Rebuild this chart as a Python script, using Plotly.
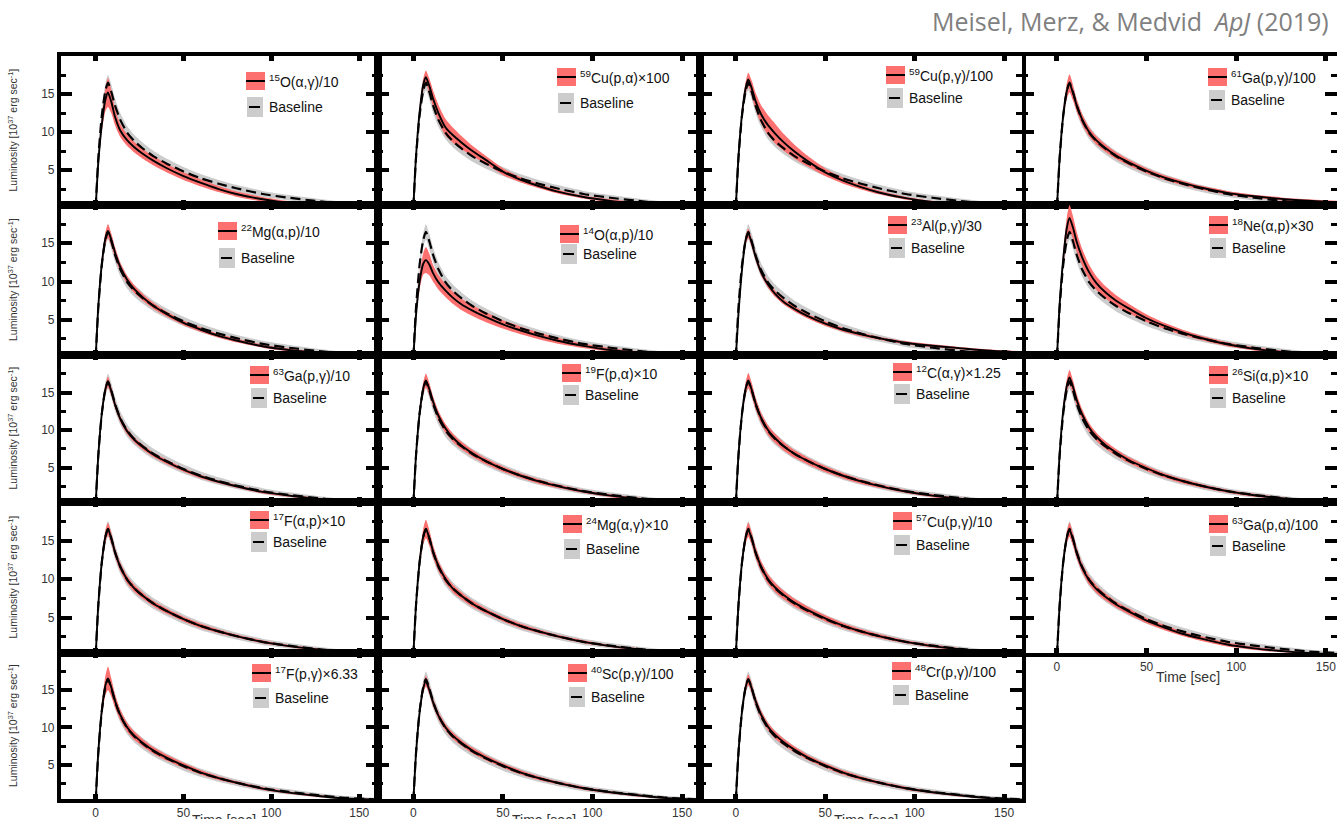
import plotly.graph_objects as go

# ---------------------------------------------------------------
# X-ray burst light curves: baseline vs. varied reaction rates
# ---------------------------------------------------------------

# common time grid [s]
time_s = [0, 1.5, 3.5, 5.5, 7, 9, 11, 14, 18, 22, 27, 33, 40, 50, 60, 70, 80, 95, 110, 125, 140, 160]

# baseline light curve and its spread [1e37 erg/s]
lum_baseline = [0, 6.6, 12.2, 15.4, 16.5, 15.2, 13.5, 11.6, 9.9, 8.8, 7.8, 6.8, 5.9, 4.8, 3.9, 3.2, 2.6, 1.85, 1.35, 0.95, 0.6, 0.35]
err_baseline = [0, 0.4, 0.7, 0.9, 1.0, 1.0, 0.95, 0.9, 0.85, 0.8, 0.75, 0.7, 0.65, 0.6, 0.55, 0.5, 0.45, 0.4, 0.35, 0.3, 0.25, 0.2]

# light curves with one rate varied, and their spreads
lum_15O_ag = [0, 6.0, 11.0, 14.2, 15.2, 13.9, 12.0, 10.2, 8.9, 8.0, 7.1, 6.2, 5.3, 4.2, 3.3, 2.5, 1.85, 1.15, 0.65, 0.35, 0.2, 0.1]
err_15O_ag = [0, 0.5, 1.0, 1.5, 1.9, 1.5, 1.1, 0.85, 0.75, 0.7, 0.65, 0.6, 0.55, 0.5, 0.45, 0.4, 0.35, 0.3, 0.25, 0.2, 0.15, 0.1]

lum_59Cu_pa = [0, 6.8, 12.6, 16.2, 17.2, 16.0, 14.4, 12.5, 10.6, 9.6, 8.6, 7.5, 6.4, 4.8, 3.7, 2.9, 2.2, 1.45, 0.95, 0.6, 0.35, 0.2]
err_59Cu_pa = [0, 0.4, 0.6, 0.8, 0.9, 1.0, 1.1, 1.1, 1.1, 1.0, 0.85, 0.7, 0.55, 0.45, 0.35, 0.3, 0.25, 0.2, 0.2, 0.15, 0.1, 0.1]

lum_59Cu_pg = [0, 6.7, 12.4, 15.8, 16.9, 15.7, 14.1, 12.4, 10.9, 9.8, 8.6, 7.4, 6.2, 4.7, 3.6, 2.75, 2.05, 1.3, 0.8, 0.5, 0.3, 0.15]
err_59Cu_pg = [0, 0.4, 0.6, 0.8, 0.9, 1.0, 1.1, 1.2, 1.3, 1.3, 1.1, 0.9, 0.7, 0.5, 0.4, 0.3, 0.25, 0.2, 0.15, 0.15, 0.1, 0.1]

lum_61Ga_pg = [0, 6.6, 12.2, 15.4, 16.4, 15.1, 13.5, 11.7, 10.0, 8.9, 7.9, 6.9, 6.0, 4.9, 4.0, 3.3, 2.7, 2.0, 1.55, 1.2, 0.95, 0.7]
err_61Ga_pg = [0, 0.4, 0.7, 1.0, 1.2, 1.0, 0.8, 0.7, 0.6, 0.55, 0.5, 0.45, 0.4, 0.35, 0.3, 0.3, 0.25, 0.25, 0.2, 0.2, 0.2, 0.2]

lum_22Mg_ap = [0, 6.7, 12.3, 15.6, 16.6, 15.4, 13.8, 11.9, 10.2, 9.0, 7.9, 6.8, 5.8, 4.6, 3.7, 2.9, 2.3, 1.55, 1.05, 0.7, 0.45, 0.25]
err_22Mg_ap = [0, 0.4, 0.6, 0.8, 0.9, 0.8, 0.7, 0.6, 0.55, 0.5, 0.45, 0.4, 0.35, 0.3, 0.3, 0.25, 0.25, 0.2, 0.2, 0.15, 0.15, 0.1]

lum_14O_ap = [0, 5.6, 10.0, 12.3, 12.8, 12.2, 11.1, 9.9, 8.8, 7.9, 7.0, 6.2, 5.4, 4.4, 3.6, 2.9, 2.3, 1.6, 1.05, 0.7, 0.45, 0.25]
err_14O_ap = [0, 0.5, 1.0, 1.4, 1.7, 1.4, 1.1, 0.95, 0.85, 0.8, 0.75, 0.7, 0.65, 0.55, 0.5, 0.45, 0.4, 0.3, 0.25, 0.2, 0.15, 0.1]

lum_23Al_pg = [0, 5.8, 11.6, 15.4, 16.3, 15.0, 13.3, 11.3, 9.6, 8.4, 7.3, 6.4, 5.5, 4.5, 3.7, 3.1, 2.6, 2.0, 1.6, 1.3, 1.0, 0.75]
err_23Al_pg = [0, 0.3, 0.5, 0.6, 0.6, 0.55, 0.5, 0.45, 0.4, 0.4, 0.35, 0.35, 0.3, 0.3, 0.25, 0.25, 0.2, 0.2, 0.2, 0.15, 0.15, 0.15]

lum_18Ne_ap = [0, 7.0, 13.0, 17.0, 18.3, 17.0, 15.2, 13.2, 11.2, 9.8, 8.6, 7.5, 6.5, 5.2, 4.2, 3.35, 2.65, 1.8, 1.2, 0.8, 0.5, 0.3]
err_18Ne_ap = [0, 0.5, 1.0, 1.4, 1.7, 1.5, 1.3, 1.1, 1.0, 0.9, 0.8, 0.7, 0.6, 0.5, 0.4, 0.35, 0.3, 0.25, 0.2, 0.2, 0.15, 0.1]

lum_63Ga_pg = [0, 6.6, 12.2, 15.4, 16.4, 15.1, 13.4, 11.5, 9.8, 8.7, 7.7, 6.7, 5.8, 4.7, 3.8, 3.1, 2.5, 1.75, 1.25, 0.85, 0.55, 0.3]
err_63Ga_pg = [0, 0.3, 0.5, 0.6, 0.7, 0.6, 0.5, 0.45, 0.4, 0.35, 0.35, 0.3, 0.3, 0.25, 0.25, 0.2, 0.2, 0.2, 0.15, 0.15, 0.1, 0.1]

lum_19F_pa = [0, 6.6, 12.2, 15.5, 16.6, 15.4, 13.8, 11.9, 10.2, 9.0, 7.9, 6.9, 5.9, 4.8, 3.9, 3.15, 2.55, 1.8, 1.25, 0.85, 0.55, 0.3]
err_19F_pa = [0, 0.4, 0.6, 0.8, 0.9, 0.8, 0.7, 0.65, 0.6, 0.55, 0.5, 0.45, 0.4, 0.35, 0.3, 0.3, 0.25, 0.2, 0.2, 0.15, 0.1, 0.1]

lum_12C_ag = [0, 6.6, 12.2, 15.5, 16.6, 15.3, 13.6, 11.7, 10.0, 8.9, 7.8, 6.8, 5.9, 4.8, 3.9, 3.15, 2.55, 1.8, 1.25, 0.85, 0.55, 0.3]
err_12C_ag = [0, 0.4, 0.6, 0.8, 1.0, 0.9, 0.8, 0.7, 0.65, 0.6, 0.55, 0.5, 0.45, 0.4, 0.35, 0.3, 0.25, 0.2, 0.2, 0.15, 0.1, 0.1]

lum_26Si_ap = [0, 6.8, 12.6, 15.9, 17.0, 15.7, 14.0, 12.1, 10.3, 9.1, 8.0, 7.0, 6.0, 4.9, 3.95, 3.2, 2.6, 1.85, 1.3, 0.9, 0.55, 0.3]
err_26Si_ap = [0, 0.4, 0.7, 0.9, 1.0, 0.9, 0.8, 0.7, 0.6, 0.55, 0.5, 0.45, 0.4, 0.35, 0.3, 0.3, 0.25, 0.2, 0.2, 0.15, 0.1, 0.1]

lum_17F_ap = [0, 6.6, 12.2, 15.5, 16.5, 15.2, 13.5, 11.6, 9.9, 8.8, 7.8, 6.8, 5.9, 4.8, 3.9, 3.2, 2.6, 1.85, 1.3, 0.9, 0.55, 0.3]
err_17F_ap = [0, 0.4, 0.6, 0.8, 0.8, 0.7, 0.6, 0.55, 0.5, 0.45, 0.4, 0.35, 0.35, 0.3, 0.3, 0.25, 0.2, 0.2, 0.15, 0.15, 0.1, 0.1]

lum_24Mg_ag = [0, 6.6, 12.2, 15.5, 16.5, 15.3, 13.6, 11.7, 10.0, 8.8, 7.8, 6.8, 5.9, 4.8, 3.9, 3.2, 2.6, 1.85, 1.3, 0.9, 0.55, 0.3]
err_24Mg_ag = [0, 0.4, 0.7, 1.0, 1.2, 1.0, 0.8, 0.65, 0.55, 0.5, 0.45, 0.4, 0.35, 0.3, 0.3, 0.25, 0.2, 0.2, 0.15, 0.15, 0.1, 0.1]

lum_57Cu_pg = [0, 6.6, 12.2, 15.4, 16.4, 15.2, 13.5, 11.7, 10.0, 8.9, 7.9, 6.9, 6.0, 4.9, 3.95, 3.2, 2.6, 1.85, 1.3, 0.9, 0.55, 0.3]
err_57Cu_pg = [0, 0.4, 0.6, 0.8, 0.9, 0.8, 0.75, 0.7, 0.65, 0.6, 0.55, 0.5, 0.45, 0.4, 0.35, 0.3, 0.25, 0.2, 0.2, 0.15, 0.1, 0.1]

lum_63Ga_pa = [0, 6.6, 12.2, 15.4, 16.4, 15.1, 13.4, 11.5, 9.8, 8.7, 7.7, 6.7, 5.8, 4.6, 3.7, 2.9, 2.3, 1.5, 1.0, 0.65, 0.4, 0.2]
err_63Ga_pa = [0, 0.4, 0.6, 0.8, 0.9, 0.8, 0.7, 0.6, 0.55, 0.5, 0.45, 0.4, 0.4, 0.35, 0.35, 0.3, 0.3, 0.25, 0.2, 0.15, 0.1, 0.1]

lum_17F_pg = [0, 6.7, 12.3, 15.6, 16.6, 15.3, 13.6, 11.7, 10.0, 8.9, 7.9, 6.9, 6.0, 4.9, 3.95, 3.2, 2.6, 1.8, 1.25, 0.85, 0.5, 0.3]
err_17F_pg = [0, 0.5, 0.9, 1.3, 1.6, 1.2, 0.9, 0.7, 0.6, 0.55, 0.5, 0.45, 0.4, 0.35, 0.3, 0.25, 0.2, 0.2, 0.15, 0.15, 0.1, 0.1]

lum_40Sc_pg = [0, 6.5, 12.0, 15.2, 16.2, 15.0, 13.4, 11.6, 10.0, 8.9, 7.9, 6.9, 6.0, 4.9, 3.95, 3.2, 2.6, 1.85, 1.3, 0.9, 0.55, 0.3]
err_40Sc_pg = [0, 0.3, 0.5, 0.6, 0.7, 0.6, 0.55, 0.5, 0.45, 0.45, 0.4, 0.4, 0.35, 0.3, 0.3, 0.25, 0.2, 0.2, 0.15, 0.15, 0.1, 0.1]

lum_48Cr_pg = [0, 6.6, 12.2, 15.4, 16.4, 15.2, 13.6, 11.8, 10.1, 9.0, 8.0, 7.0, 6.0, 4.9, 3.95, 3.2, 2.6, 1.85, 1.3, 0.9, 0.55, 0.3]
err_48Cr_pg = [0, 0.3, 0.5, 0.6, 0.7, 0.65, 0.6, 0.55, 0.5, 0.5, 0.45, 0.4, 0.35, 0.3, 0.3, 0.25, 0.2, 0.2, 0.15, 0.15, 0.1, 0.1]

reaction_labels = [
    "<sup>15</sup>O(α,γ)/10", "<sup>59</sup>Cu(p,α)×100", "<sup>59</sup>Cu(p,γ)/100", "<sup>61</sup>Ga(p,γ)/100",
    "<sup>22</sup>Mg(α,p)/10", "<sup>14</sup>O(α,p)/10", "<sup>23</sup>Al(p,γ)/30", "<sup>18</sup>Ne(α,p)×30",
    "<sup>63</sup>Ga(p,γ)/10", "<sup>19</sup>F(p,α)×10", "<sup>12</sup>C(α,γ)×1.25", "<sup>26</sup>Si(α,p)×10",
    "<sup>17</sup>F(α,p)×10", "<sup>24</sup>Mg(α,γ)×10", "<sup>57</sup>Cu(p,γ)/10", "<sup>63</sup>Ga(p,α)/100",
    "<sup>17</sup>F(p,γ)×6.33", "<sup>40</sup>Sc(p,γ)/100", "<sup>48</sup>Cr(p,γ)/100",
]
panel_lums = [lum_15O_ag, lum_59Cu_pa, lum_59Cu_pg, lum_61Ga_pg,
              lum_22Mg_ap, lum_14O_ap, lum_23Al_pg, lum_18Ne_ap,
              lum_63Ga_pg, lum_19F_pa, lum_12C_ag, lum_26Si_ap,
              lum_17F_ap, lum_24Mg_ag, lum_57Cu_pg, lum_63Ga_pa,
              lum_17F_pg, lum_40Sc_pg, lum_48Cr_pg]
panel_errs = [err_15O_ag, err_59Cu_pa, err_59Cu_pg, err_61Ga_pg,
              err_22Mg_ap, err_14O_ap, err_23Al_pg, err_18Ne_ap,
              err_63Ga_pg, err_19F_pa, err_12C_ag, err_26Si_ap,
              err_17F_ap, err_24Mg_ag, err_57Cu_pg, err_63Ga_pa,
              err_17F_pg, err_40Sc_pg, err_48Cr_pg]

x_tickvals = [0, 50, 100, 150]
y_tickvals = [5, 10, 15]
y_minor_tickvals = [2.5, 7.5, 12.5, 17.5]

# ---------------------------------------------------------------
# page geometry (pixels)
# ---------------------------------------------------------------
W, H = 1337, 819
col_left = [60.7, 377.5, 700.0, 1022.0]
col_right = [377.5, 700.0, 1022.0, 1337.0]
row_top = [56.0, 205.0, 355.0, 502.0, 653.0]
row_bot = [205.0, 355.0, 502.0, 653.0, 799.0]
x_ranges = [[-19.9, 160.4], [-20, 160], [-20, 160], [-19.5, 156.2]]
y_range = [0.4, 20]

# legend block per panel: swatch left edge, row-1 centre, row-2 centre
legend_px = [
    (246, 81, 107), (557, 77, 103), (886, 75, 98), (1208, 77, 100),
    (218, 231, 258), (560, 234, 254), (888, 225, 248), (1209, 225, 248),
    (250, 375, 398), (562, 373, 395), (893, 372, 394), (1209, 375, 398),
    (250, 520, 542), (563, 524, 549), (893, 521, 545), (1209, 524, 546),
    (252, 673, 698), (568, 673, 697), (892, 671, 695),
]

RED = "rgb(253,112,112)"
GRAY = "rgb(204,204,204)"
FONT = "Liberation Sans, Arial, Helvetica, sans-serif"
TICK_COLOR = "#333333"


def px_x(p):
    return p / W


def px_y(p):
    return 1 - p / H


y_tick_style = dict(
    range=y_range, tickvals=y_tickvals, ticks="inside", ticklen=12, tickwidth=3.5,
    tickcolor="black",
    minor=dict(tickvals=y_minor_tickvals, ticks="inside", ticklen=6, tickwidth=3,
               tickcolor="black"),
    showgrid=False, zeroline=False,
    tickfont=dict(family=FONT, size=12, color=TICK_COLOR),
)

fig = go.Figure()
shapes = []
annotations = []
extra_axis = len(reaction_labels)

for i, (label, lum, err) in enumerate(zip(reaction_labels, panel_lums, panel_errs)):
    r, c = divmod(i, 4)
    n = i + 1
    xa, ya = f"x{n}", f"y{n}"
    common = dict(xaxis=xa, yaxis=ya, hoverinfo="skip", showlegend=False)
    spl = dict(shape="spline", smoothing=0.6)

    # baseline spread
    fig.add_trace(go.Scatter(x=time_s, y=[m - e for m, e in zip(lum_baseline, err_baseline)],
                             mode="lines", line=dict(width=0, **spl), **common))
    fig.add_trace(go.Scatter(x=time_s, y=[m + e for m, e in zip(lum_baseline, err_baseline)],
                             mode="lines", line=dict(width=0, **spl), fill="tonexty",
                             fillcolor=GRAY, **common))
    # varied-rate spread
    fig.add_trace(go.Scatter(x=time_s, y=[m - e for m, e in zip(lum, err)],
                             mode="lines", line=dict(width=0, **spl), **common))
    fig.add_trace(go.Scatter(x=time_s, y=[m + e for m, e in zip(lum, err)],
                             mode="lines", line=dict(width=0, **spl), fill="tonexty",
                             fillcolor=RED, **common))
    # curves
    fig.add_trace(go.Scatter(x=time_s, y=lum_baseline, mode="lines",
                             line=dict(color="black", width=2.2, dash="10px,5px", **spl), **common))
    fig.add_trace(go.Scatter(x=time_s, y=lum, mode="lines",
                             line=dict(color="black", width=1.9, **spl), **common))

    show_x_labels = (r == 4) or (r == 3 and c == 3)
    fig.layout[f"xaxis{n}"] = dict(
        domain=[px_x(col_left[c]), px_x(col_right[c])], range=x_ranges[c], anchor=ya,
        tickvals=x_tickvals, ticks="inside", ticklen=5, tickwidth=5, tickcolor="black",
        showline=True, linewidth=3.5, linecolor="black", mirror="ticks",
        showgrid=False, zeroline=False, showticklabels=show_x_labels,
        tickfont=dict(family=FONT, size=12, color=TICK_COLOR),
    )
    fig.layout[f"yaxis{n}"] = dict(
        domain=[px_y(row_bot[r]), px_y(row_top[r])], anchor=xa,
        showline=(c != 3), linewidth=3.5, linecolor="black", mirror="ticks",
        showticklabels=(c == 0), **y_tick_style,
    )
    if c == 3:
        # right-hand ticks of the outer column (its frame runs past the page edge)
        extra_axis += 1
        fig.layout[f"yaxis{extra_axis}"] = dict(
            overlaying=ya, anchor=xa, side="right", showline=False,
            showticklabels=False, **y_tick_style,
        )

    # legend block
    lx, ly1, ly2 = legend_px[i]
    shapes.append(dict(type="rect", xref="paper", yref="paper",
                       x0=px_x(lx), x1=px_x(lx + 19), y0=px_y(ly1 + 9), y1=px_y(ly1 - 9),
                       fillcolor=RED, line=dict(width=0)))
    shapes.append(dict(type="line", xref="paper", yref="paper",
                       x0=px_x(lx), x1=px_x(lx + 19), y0=px_y(ly1), y1=px_y(ly1),
                       line=dict(color="black", width=2)))
    shapes.append(dict(type="rect", xref="paper", yref="paper",
                       x0=px_x(lx + 1), x1=px_x(lx + 17), y0=px_y(ly2 + 10), y1=px_y(ly2 - 10),
                       fillcolor=GRAY, line=dict(width=0)))
    shapes.append(dict(type="line", xref="paper", yref="paper",
                       x0=px_x(lx + 3), x1=px_x(lx + 14), y0=px_y(ly2), y1=px_y(ly2),
                       line=dict(color="black", width=2)))
    annotations.append(dict(text=label, x=px_x(lx + 21), y=px_y(ly1), xref="paper", yref="paper",
                            xanchor="left", yanchor="middle", showarrow=False,
                            font=dict(family=FONT, size=14, color="#111111")))
    annotations.append(dict(text="Baseline", x=px_x(lx + 21), y=px_y(ly2), xref="paper", yref="paper",
                            xanchor="left", yanchor="middle", showarrow=False,
                            font=dict(family=FONT, size=14, color="#111111")))

    # axis titles
    if c == 0:
        annotations.append(dict(text="Luminosity [10<sup>37</sup> erg sec<sup>-1</sup>]",
                                x=px_x(12), y=px_y((row_top[r] + row_bot[r]) / 2),
                                xref="paper", yref="paper", textangle=-90, showarrow=False,
                                xanchor="center", yanchor="middle",
                                font=dict(family=FONT, size=10.5, color=TICK_COLOR)))
    if show_x_labels:
        title_gap = 11 if r == 4 else 14
        annotations.append(dict(text="Time [sec]", x=73, y=px_y(row_bot[r] + title_gap),
                                xref=xa, yref="paper", xanchor="center", yanchor="top",
                                showarrow=False,
                                font=dict(family=FONT, size=14, color=TICK_COLOR)))

# citation header
annotations.append(dict(text="Meisel, Merz, & Medvid\u00a0\u00a0<i>ApJ</i> (2019)",
                        x=px_x(1331), y=px_y(21), xref="paper", yref="paper",
                        xanchor="right", yanchor="middle", showarrow=False,
                        font=dict(family="Open Sans, sans-serif", size=25, color="#808080")))

fig.update_layout(
    width=W, height=H, margin=dict(l=0, r=0, t=0, b=0),
    paper_bgcolor="white", plot_bgcolor="rgba(0,0,0,0)",
    shapes=shapes, annotations=annotations, showlegend=False,
)

fig.write_html("out.html")
